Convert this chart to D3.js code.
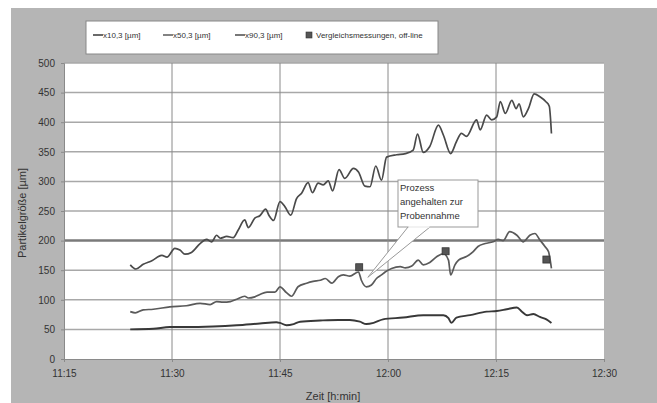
<!DOCTYPE html>
<html>
<head>
    <meta charset="utf-8">
    <script src="https://d3js.org/d3.v7.min.js"></script>
    <style>
        body { margin: 0; background: #fff; }
        text { font-family: "Liberation Sans", Arial, sans-serif; }
    </style>
</head>
<body>
    <script>
        // time = minutes after 11:15, values in µm
        var x10Time = [9.2, 12.4, 14.7, 17.0, 20.7, 24.0, 27.2, 29.5, 30.0, 30.9, 31.9, 32.8, 35.6, 38.1, 39.7, 41.1, 42.0, 43.0, 44.3, 47.1, 49.9, 52.7, 53.4, 53.8, 54.5, 56.4, 58.7, 60.1, 61.5, 62.9, 63.6, 64.3, 65.2, 66.1, 67.0, 67.7];
        var x10Values = [50, 51, 54, 54, 55, 57, 60, 62, 61, 57, 59, 63, 65, 66, 66, 63, 59, 61, 67, 70, 74, 74, 69, 61, 70, 74, 80, 81, 84, 87, 80, 74, 76, 71, 67, 61];

        var x50Time = [9.2, 9.9, 11.0, 12.4, 14.7, 17.0, 18.9, 20.3, 21.2, 22.1, 23.1, 24.0, 25.1, 25.6, 26.5, 27.2, 28.2, 29.3, 30.0, 30.9, 31.6, 32.5, 33.7, 34.6, 35.6, 36.3, 37.2, 38.1, 38.8, 39.7, 40.9, 41.3, 42.0, 42.7, 43.4, 44.1, 44.6, 45.5, 46.7, 47.4, 48.3, 49.2, 49.9, 50.8, 51.8, 52.7, 53.4, 53.7, 54.3, 54.8, 55.9, 56.8, 57.5, 58.5, 59.6, 60.3, 61.0, 61.9, 62.9, 63.8, 64.7, 65.4, 66.1, 66.8, 67.3, 67.7];
        var x50Values = [80, 78, 83, 84, 88, 90, 94, 92, 97, 96, 97, 101, 106, 103, 105, 109, 113, 113, 122, 112, 106, 122, 128, 131, 133, 136, 128, 139, 142, 140, 147, 133, 122, 125, 136, 142, 147, 153, 156, 154, 157, 167, 159, 163, 173, 178, 167, 142, 159, 167, 173, 181, 190, 195, 198, 202, 200, 215, 209, 198, 209, 212, 201, 190, 181, 153];

        var x90Time = [9.2, 10.0, 11.0, 12.2, 13.6, 14.3, 15.4, 16.1, 16.8, 17.7, 18.9, 19.8, 20.5, 21.2, 21.7, 22.6, 23.5, 24.2, 25.1, 25.6, 26.5, 27.2, 28.0, 28.5, 29.1, 30.0, 30.7, 31.5, 32.3, 33.0, 33.9, 34.5, 35.3, 36.0, 36.7, 37.3, 38.2, 39.0, 40.2, 40.9, 41.8, 42.5, 43.3, 44.1, 44.8, 46.2, 47.4, 48.5, 49.1, 49.9, 50.8, 52.0, 52.7, 53.7, 54.5, 55.2, 55.9, 57.3, 57.8, 58.7, 59.4, 60.1, 60.6, 61.3, 62.2, 62.8, 63.2, 63.8, 64.5, 65.3, 66.1, 66.9, 67.4, 67.7];
        var x90Values = [159, 152, 160, 166, 175, 172, 187, 184, 177, 180, 195, 202, 198, 209, 204, 207, 205, 218, 235, 222, 238, 242, 253, 242, 234, 266, 257, 243, 271, 280, 298, 281, 297, 294, 301, 284, 320, 305, 322, 316, 292, 291, 326, 302, 341, 345, 347, 353, 380, 349, 359, 395, 378, 347, 367, 381, 376, 404, 387, 412, 404, 409, 435, 415, 437, 423, 431, 409, 423, 448, 443, 435, 427, 381];

        var refTime = [41.0, 53.0, 67.0];
        var refValues = [155, 182, 168];

        var xTicks = [0, 15, 30, 45, 60, 75];
        var xTickLabels = ["11:15", "11:30", "11:45", "12:00", "12:15", "12:30"];
        var yTicks = [0, 50, 100, 150, 200, 250, 300, 350, 400, 450, 500];

        var seriesNames = ["x10,3 [µm]", "x50,3 [µm]", "x90,3 [µm]"];
        var refName = "Vergleichsmessungen, off-line";
        var calloutLines = ["Prozess", "angehalten zur", "Probennahme"];
        var calloutTip = { t: 42.2, v: 138 };
    </script>
    <script>
        var W = 657, H = 403,
            margin = { top: 63, right: 53, bottom: 44, left: 64 },
            svg = d3.select("body").append("svg").attr("width", W).attr("height", H);

        var width = W - margin.left - margin.right,
            height = H - margin.top - margin.bottom;

        // grey chart area
        svg.append("rect").attr("x", 11).attr("y", 8).attr("width", W - 11).attr("height", H - 8).attr("fill", "#b5b5b5");

        var g = svg.append("g").attr("transform", "translate(" + margin.left + "," + margin.top + ")");

        var xScale = d3.scaleLinear().domain([0, 75]).range([0, width]);
        var yScale = d3.scaleLinear().domain([0, 500]).range([height, 0]);

        g.append("rect").attr("width", width).attr("height", height).attr("fill", "#fff");

        // grid
        g.selectAll(".hgrid").data(yTicks.filter(function (d) { return d > 0; }))
            .enter().append("line")
            .attr("x1", 0).attr("x2", width)
            .attr("y1", function (d) { return yScale(d); })
            .attr("y2", function (d) { return yScale(d); })
            .attr("stroke", function (d) { return d === 200 ? "#7a7a7a" : "#a8a8a8"; })
            .attr("stroke-width", function (d) { return d === 200 ? 2.5 : 1.5; });

        g.selectAll(".vgrid").data(xTicks.slice(1, -1))
            .enter().append("line")
            .attr("y1", 0).attr("y2", height)
            .attr("x1", function (d) { return xScale(d); })
            .attr("x2", function (d) { return xScale(d); })
            .attr("stroke", "#8a8a8a").attr("stroke-width", 1);

        // axes
        var xAxis = g.append("g").attr("transform", "translate(0," + height + ")")
            .call(d3.axisBottom(xScale).tickValues(xTicks)
                .tickFormat(function (d, i) { return xTickLabels[i]; }).tickSize(3).tickPadding(8));
        var yAxis = g.append("g")
            .call(d3.axisLeft(yScale).tickValues(yTicks).tickSize(3).tickPadding(6));
        [xAxis, yAxis].forEach(function (a) {
            a.select(".domain").attr("stroke", "#8a8a8a");
            a.selectAll(".tick line").attr("stroke", "#8a8a8a");
            a.selectAll("text").attr("fill", "#333").attr("font-size", 10)
                .attr("font-family", "Liberation Sans, Arial, sans-serif");
        });

        svg.append("text").attr("x", 333).attr("y", 400).attr("text-anchor", "middle")
            .attr("font-size", 11).attr("fill", "#333").text("Zeit  [h:min]");
        svg.append("text").attr("transform", "translate(26,213) rotate(-90)").attr("text-anchor", "middle")
            .attr("font-size", 11).attr("fill", "#333").text("Partikelgröße  [µm]");

        // series
        var series = [
            { t: x10Time, v: x10Values, color: "#383838", w: 1.9 },
            { t: x50Time, v: x50Values, color: "#5a5a5a", w: 1.7 },
            { t: x90Time, v: x90Values, color: "#4a4a4a", w: 1.7 }
        ];
        var line = d3.line().curve(d3.curveMonotoneX)
            .x(function (d) { return xScale(d[0]); })
            .y(function (d) { return yScale(d[1]); });

        g.selectAll("path.data").data(series).enter().append("path")
            .attr("class", "data")
            .attr("fill", "none")
            .attr("stroke", function (d) { return d.color; })
            .attr("stroke-width", function (d) { return d.w; })
            .attr("stroke-linejoin", "round")
            .attr("d", function (d) { return line(d.t.map(function (t, i) { return [t, d.v[i]]; })); });

        g.selectAll("rect.ref").data(refTime).enter().append("rect")
            .attr("class", "ref")
            .attr("x", function (d) { return xScale(d) - 3.5; })
            .attr("y", function (d, i) { return yScale(refValues[i]) - 3.5; })
            .attr("width", 7).attr("height", 7)
            .attr("fill", "#555").attr("stroke", "#333").attr("stroke-width", 0.8);

        // callout
        var bx = 334, by = 117, bw = 80, bh = 47;
        var tipX = xScale(calloutTip.t), tipY = yScale(calloutTip.v);
        var callout = g.append("g");
        callout.append("path")
            .attr("d", "M" + (bx + 10) + "," + (by + bh) + "L" + tipX + "," + tipY + "L" + (bx + 32) + "," + (by + bh))
            .attr("fill", "#fff").attr("stroke", "#999").attr("stroke-width", 1);
        callout.append("rect").attr("x", bx).attr("y", by).attr("width", bw).attr("height", bh)
            .attr("fill", "#fff").attr("stroke", "#999").attr("stroke-width", 1);
        callout.append("line").attr("x1", bx + 10.5).attr("x2", bx + 31.5).attr("y1", by + bh).attr("y2", by + bh)
            .attr("stroke", "#fff").attr("stroke-width", 1.5);
        callout.selectAll("text").data(calloutLines).enter().append("text")
            .attr("x", bx + 2).attr("y", function (d, i) { return by + 11 + i * 14; })
            .attr("font-size", 9.5).attr("fill", "#333").text(function (d) { return d; });

        // legend
        var legend = svg.append("g");
        legend.append("rect").attr("x", 86).attr("y", 21).attr("width", 352).attr("height", 33)
            .attr("fill", "#fff").attr("stroke", "#888").attr("stroke-width", 1);
        var legX = [93, 163, 235];
        seriesNames.forEach(function (name, i) {
            legend.append("line").attr("x1", legX[i]).attr("x2", legX[i] + 10).attr("y1", 35).attr("y2", 35)
                .attr("stroke", series[i].color).attr("stroke-width", 1.5);
            legend.append("text").attr("x", legX[i] + 10).attr("y", 38).attr("font-size", 8)
                .attr("fill", "#333").text(name);
        });
        legend.append("rect").attr("x", 306).attr("y", 32).attr("width", 6).attr("height", 6)
            .attr("fill", "#555").attr("stroke", "#333").attr("stroke-width", 0.6);
        legend.append("text").attr("x", 316).attr("y", 38).attr("font-size", 8).attr("fill", "#333").text(refName);
    </script>
</body>
</html>
